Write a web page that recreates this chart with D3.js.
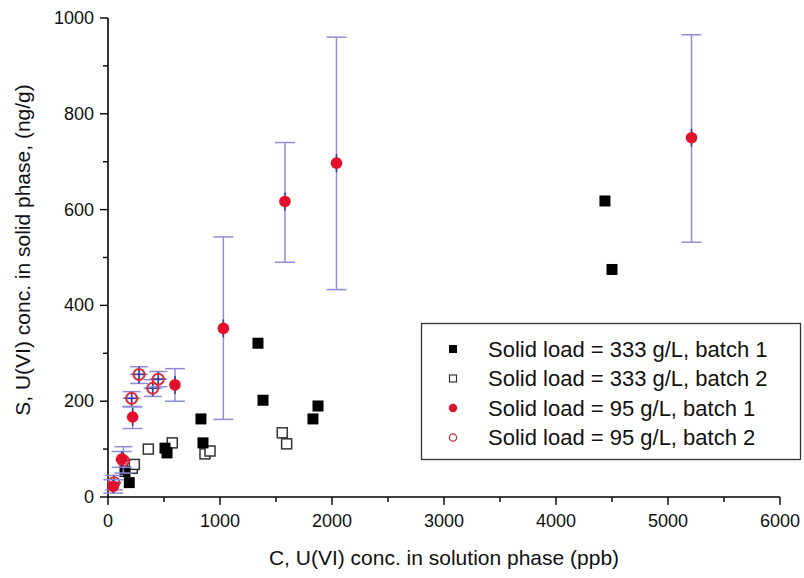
<!DOCTYPE html>
<html><head><meta charset="utf-8">
<script src="https://cdn.jsdelivr.net/npm/d3@7"></script>
<style>body{margin:0;background:#fff}svg{display:block;font-family:"Liberation Sans",Arial,sans-serif}</style>
</head><body><svg id="c" width="804" height="578"></svg>
<script>
// Solid load = 333 g/L, batch 1
const b1x = [152, 190, 509, 527, 830, 848, 1339, 1384, 1830, 1875, 4437, 4500];
const b1y = [53, 30, 102, 92, 163, 113, 321, 202, 163, 190, 618, 475];
// Solid load = 333 g/L, batch 2
const b2x = [217, 235, 360, 574, 866, 911, 1556, 1595];
const b2y = [60, 68, 100, 113, 90, 96, 134, 111];
// Solid load = 95 g/L, batch 1 (with error bars)
const r1x = [47, 122, 220, 598, 1030, 1580, 2040, 5210];
const r1y = [22, 79, 167, 234, 352, 617, 697, 750];
const r1lo = [8, 62, 143, 200, 162, 490, 433, 532];
const r1hi = [36, 95, 188, 268, 543, 740, 960, 965];
// Solid load = 95 g/L, batch 2 (with error bars)
const r2x = [54, 137, 211, 277, 399, 449];
const r2y = [30, 76, 206, 256, 227, 246];
const r2lo = [15, 50, 189, 237, 210, 230];
const r2hi = [45, 105, 220, 272, 245, 262];
const r2xe = [40, 70, 80, 80, 80, 80];

const xTicks = [0, 1000, 2000, 3000, 4000, 5000, 6000];
const yTicks = [0, 200, 400, 600, 800, 1000];
const legendLabels = ["Solid load = 333 g/L, batch 1", "Solid load = 333 g/L, batch 2",
  "Solid load = 95 g/L, batch 1", "Solid load = 95 g/L, batch 2"];

const svg = d3.select("#c");
const x = d3.scaleLinear().domain([0, 6000]).range([108, 780]);
const y = d3.scaleLinear().domain([0, 1000]).range([497, 18]);
const RED = "#e3102b", EB = "#8e8ed8", EBD = "#3a3aa8";

// axes
const xMinor = d3.range(0, 6001, 500).filter(v => v % 1000);
const yMinor = d3.range(0, 1001, 100).filter(v => v % 200);
const ax = svg.append("g");
ax.append("line").attr("x1", x(0)).attr("x2", x(6000)).attr("y1", y(0)).attr("y2", y(0)).attr("stroke", "#000").attr("stroke-width", 1.6);
ax.append("line").attr("x1", x(0)).attr("x2", x(0)).attr("y1", y(0)).attr("y2", y(1000)).attr("stroke", "#000").attr("stroke-width", 1.6);
ax.selectAll(".xt").data(xTicks).join("line").attr("x1", d => x(d)).attr("x2", d => x(d)).attr("y1", y(0)).attr("y2", y(0) + 8).attr("stroke", "#000").attr("stroke-width", 1.4);
ax.selectAll(".xm").data(xMinor).join("line").attr("x1", d => x(d)).attr("x2", d => x(d)).attr("y1", y(0)).attr("y2", y(0) + 5).attr("stroke", "#000").attr("stroke-width", 1.4);
ax.selectAll(".yt").data(yTicks).join("line").attr("x1", x(0) - 8).attr("x2", x(0)).attr("y1", d => y(d)).attr("y2", d => y(d)).attr("stroke", "#000").attr("stroke-width", 1.4);
ax.selectAll(".ym").data(yMinor).join("line").attr("x1", x(0) - 5).attr("x2", x(0)).attr("y1", d => y(d)).attr("y2", d => y(d)).attr("stroke", "#000").attr("stroke-width", 1.4);
ax.selectAll(".xl").data(xTicks).join("text").attr("x", d => x(d)).attr("y", y(0) + 30).attr("text-anchor", "middle").attr("font-size", 18).attr("fill", "#111").text(d => d);
ax.selectAll(".yl").data(yTicks).join("text").attr("x", x(0) - 14).attr("y", d => y(d) + 6).attr("text-anchor", "end").attr("font-size", 18).attr("fill", "#111").text(d => d);
svg.append("text").attr("x", 444).attr("y", 565).attr("text-anchor", "middle").attr("font-size", 21).attr("fill", "#111").text("C, U(VI) conc. in solution phase (ppb)");
svg.append("text").attr("transform", "translate(30,250) rotate(-90)").attr("text-anchor", "middle").attr("font-size", 21).attr("fill", "#111").text("S, U(VI) conc. in solid phase, (ng/g)");

// error bars
function ebars(xs, ys, lo, hi, xe, cap) {
  const g = svg.append("g");
  xs.forEach((xv, i) => {
    const cx = x(xv), cy = y(ys[i]);
    g.append("line").attr("x1", cx).attr("x2", cx).attr("y1", y(lo[i])).attr("y2", y(hi[i])).attr("stroke", EB).attr("stroke-width", 1.5);
    [lo[i], hi[i]].forEach(v => g.append("line").attr("x1", cx - cap).attr("x2", cx + cap).attr("y1", y(v)).attr("y2", y(v)).attr("stroke", EB).attr("stroke-width", 1.5));
    if (xe) g.append("line").attr("x1", x(xv - xe[i])).attr("x2", x(xv + xe[i])).attr("y1", cy).attr("y2", cy).attr("stroke", EB).attr("stroke-width", 1.5);
    g.append("line").attr("x1", cx).attr("x2", cx).attr("y1", Math.max(cy - 9, y(hi[i]))).attr("y2", Math.min(cy + 9, y(lo[i]))).attr("stroke", EBD).attr("stroke-width", 1.6);
    if (xe) g.append("line").attr("x1", cx - 7).attr("x2", cx + 7).attr("y1", cy).attr("y2", cy).attr("stroke", EBD).attr("stroke-width", 1.6);
  });
}

// markers
svg.append("g").selectAll("rect").data(b2x.map((v, i) => [v, b2y[i]])).join("rect")
  .attr("x", d => x(d[0]) - 5).attr("y", d => y(d[1]) - 5).attr("width", 10).attr("height", 10)
  .attr("fill", "#fff").attr("stroke", "#333").attr("stroke-width", 1.5);
svg.append("g").selectAll("rect").data(b1x.map((v, i) => [v, b1y[i]])).join("rect")
  .attr("x", d => x(d[0]) - 5.5).attr("y", d => y(d[1]) - 5.5).attr("width", 11).attr("height", 11).attr("fill", "#000");
ebars(r2x, r2y, r2lo, r2hi, r2xe, 9);
svg.append("g").selectAll("circle").data(r2x.map((v, i) => [v, r2y[i]])).join("circle")
  .attr("cx", d => x(d[0])).attr("cy", d => y(d[1])).attr("r", 5.5)
  .attr("fill", "none").attr("stroke", "#d8303a").attr("stroke-width", 2);
ebars(r1x, r1y, r1lo, r1hi, null, 10);
svg.append("g").selectAll("circle").data(r1x.map((v, i) => [v, r1y[i]])).join("circle")
  .attr("cx", d => x(d[0])).attr("cy", d => y(d[1])).attr("r", 5.8).attr("fill", RED);

// legend
const lg = svg.append("g");
lg.append("rect").attr("x", 421.5).attr("y", 323.5).attr("width", 379).attr("height", 136)
  .attr("fill", "#fff").attr("stroke", "#333").attr("stroke-width", 1.3);
const ly = i => 349 + i * 29.5;
lg.append("rect").attr("x", 449).attr("y", ly(0) - 4).attr("width", 8).attr("height", 8).attr("fill", "#000");
lg.append("rect").attr("x", 449.5).attr("y", ly(1) - 3.5).attr("width", 7).attr("height", 7).attr("fill", "#fff").attr("stroke", "#333").attr("stroke-width", 1.2);
lg.append("circle").attr("cx", 453).attr("cy", ly(2)).attr("r", 4.2).attr("fill", RED);
lg.append("circle").attr("cx", 453).attr("cy", ly(3)).attr("r", 3.6).attr("fill", "none").attr("stroke", "#c83040").attr("stroke-width", 1.3);
lg.selectAll("text").data(legendLabels).join("text").attr("x", 488).attr("y", (d, i) => ly(i) + 7.5)
  .attr("font-size", 22).attr("fill", "#111").text(d => d);
</script></body></html>
